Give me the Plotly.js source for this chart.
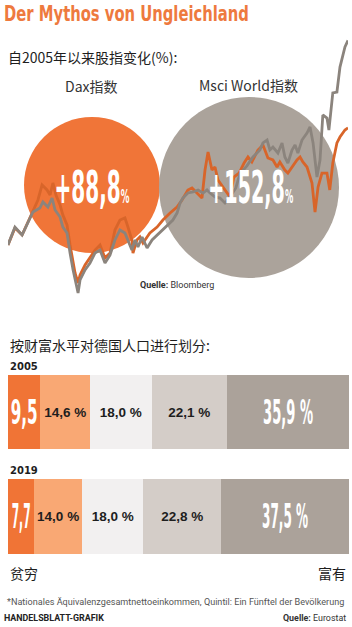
<!DOCTYPE html>
<html><head><meta charset="utf-8">
<script src="https://cdn.plot.ly/plotly-3.0.1.min.js"></script>
<style>html,body{margin:0;padding:0;background:#fff;}</style>
</head><body><div id="chart" style="width:352px;height:627px;"></div>
<script>
// ---- Line chart data: % change since 2005 ----
const daxYears = [2006.0, 2006.32, 2006.65, 2006.92, 2007.15, 2007.38, 2007.57, 2007.8, 2007.94, 2008.07, 2008.21, 2008.4, 2008.53, 2008.72, 2008.86, 2009.0, 2009.09, 2009.23, 2009.32, 2009.55, 2009.78, 2010.01, 2010.24, 2010.47, 2010.7, 2010.93, 2011.16, 2011.39, 2011.53, 2011.71, 2011.76, 2011.94, 2012.08, 2012.22, 2012.41, 2012.54, 2012.87, 2013.14, 2013.47, 2013.79, 2014.02, 2014.16, 2014.29, 2014.48, 2014.71, 2014.94, 2015.08, 2015.22, 2015.4, 2015.54, 2015.68, 2015.91, 2016.14, 2016.23, 2016.41, 2016.65, 2016.88, 2017.06, 2017.24, 2017.52, 2017.75, 2017.98, 2018.21, 2018.4, 2018.53, 2018.76, 2018.9, 2019.09, 2019.32, 2019.46, 2019.59, 2019.78, 2020.01, 2020.15, 2020.29, 2020.47, 2020.7, 2020.83, 2020.97, 2021.16, 2021.3, 2021.53, 2021.67];
const daxValues = [0, 12.9, 7.6, 17.4, 25, 34.1, 45.5, 41.7, 37.9, 47, 37.9, 30.3, 22.7, 15.2, 0, -12.9, -21.2, -28.8, -22.7, -15.2, -9.8, -3.8, 0, -9.8, -6.1, 11.4, 18.9, 20.5, 13.6, 3.8, -6.1, 3.8, 6.1, 1.5, 6.1, 9.1, 13.6, 18.9, 24.2, 28.8, 34.1, 37.9, 41.7, 43.2, 39.4, 35.6, 56.8, 70.5, 56.8, 59.1, 49.2, 43.9, 39.4, 36.4, 51.5, 54.5, 62.1, 66.7, 62.9, 72, 75.8, 65.9, 64.4, 59.1, 62.9, 56.8, 54.5, 59.1, 64.4, 66.7, 62.9, 59.1, 47, 25, 43.9, 54.5, 54.5, 41.7, 62.1, 77.3, 81.8, 87.1, 88.8];
const msciYears = [2006.0, 2006.32, 2006.65, 2006.92, 2007.15, 2007.47, 2007.61, 2007.84, 2008.03, 2008.17, 2008.4, 2008.53, 2008.72, 2008.86, 2009.0, 2009.23, 2009.32, 2009.55, 2009.78, 2010.01, 2010.24, 2010.47, 2010.7, 2010.93, 2011.16, 2011.39, 2011.53, 2011.71, 2011.85, 2011.99, 2012.18, 2012.41, 2012.64, 2012.87, 2013.1, 2013.33, 2013.47, 2013.6, 2013.79, 2013.93, 2014.06, 2014.29, 2014.53, 2014.76, 2014.99, 2015.17, 2015.31, 2015.54, 2015.77, 2016.0, 2016.23, 2016.5, 2016.69, 2017.01, 2017.29, 2017.61, 2017.75, 2017.94, 2018.07, 2018.21, 2018.44, 2018.63, 2018.76, 2018.9, 2019.09, 2019.23, 2019.36, 2019.55, 2019.78, 2019.92, 2020.06, 2020.24, 2020.38, 2020.51, 2020.7, 2020.79, 2020.97, 2021.16, 2021.3, 2021.53, 2021.67];
const msciValues = [0, 13.6, 7.6, 16.7, 25, 28, 32.6, 28.8, 35.6, 26.5, 21.2, 13.6, 9.1, -6.1, -18.9, -36.4, -26.5, -18.9, -13.6, -6.1, -3.8, -13.6, -7.6, 3.8, 11.4, 9.1, 3.8, -3.8, 3.8, -1.5, 6.1, -2.3, 3.8, 7.6, 11.4, 15.2, 17.4, 18.9, 24.2, 31.8, 35.6, 39.4, 40.2, 41.7, 39.4, 41.7, 39.4, 36.4, 35.6, 31.8, 36.4, 43.2, 54, 60, 66.7, 72, 77.3, 79.5, 72, 74.2, 69.7, 77.3, 66.7, 62.1, 72, 75.8, 69.7, 79.5, 84.8, 89.4, 77.3, 51.5, 64.4, 98.5, 96.2, 87.1, 115.2, 115.9, 134.8, 150, 155];
const daxTotal = '+88,8';
const msciTotal = '+152,8';

// ---- Quintile shares of national equivalised net income ----
const years = ['2005', '2019'];
const quintile1 = [9.5, 7.7];
const quintile2 = [14.6, 14.0];
const quintile3 = [18.0, 18.0];
const quintile4 = [22.1, 22.8];
const quintile5 = [35.9, 37.5];

const W = 352, H = 627;
const px = v => v / W;
const py = v => 1 - v / H;

const narrow = 'Liberation Sans Narrow, DejaVu Sans Condensed, Liberation Sans, sans-serif';
const cjk = 'Noto Sans CJK SC, Noto Sans, sans-serif';
const labelFont = {family: 'Liberation Sans, Arial, sans-serif', size: 13.5, color: '#1e1e1e', weight: 'bold'};
const bigFont = {family: narrow, size: 33, color: '#ffffff', weight: 'bold'};

const traces = [
  {x: daxYears, y: daxValues, type: 'scatter', mode: 'lines', xaxis: 'x', yaxis: 'y',
   line: {color: '#D8652A', width: 2.8}, hoverinfo: 'skip'},
  {x: msciYears, y: msciValues, type: 'scatter', mode: 'lines', xaxis: 'x', yaxis: 'y',
   line: {color: '#8B847D', width: 2.8}, hoverinfo: 'skip'}
];
const quintiles = [quintile1, quintile2, quintile3, quintile4, quintile5];
const qColors = ['#F07436', '#F9A874', '#F2F0F0', '#D4CDC8', '#ABA29A'];
quintiles.forEach((q, i) => {
  const big = (i === 0 || i === 4);
  traces.push({
    type: 'bar', orientation: 'h', x: q, y: years, xaxis: 'x2', yaxis: 'y2',
    marker: {color: qColors[i], line: {width: 0}},
    texttemplate: i === 0 ? '%{x:.1f}' : '%{x:.1f} %',
    textposition: 'inside', insidetextanchor: 'middle', textangle: 0,
    constraintext: 'none', cliponaxis: false,
    textfont: big ? bigFont : labelFont, hoverinfo: 'skip'
  });
});

const ann = (text, x, y, opts) => Object.assign({
  text, x: px(x), y: py(y), xref: 'paper', yref: 'paper', showarrow: false,
  xanchor: 'left', yanchor: 'middle'
}, opts || {});

const annotations = [
  ann('Der Mythos von Ungleichland', 2, 13, {font: {family: narrow, size: 22, color: '#EE7A3E', weight: 'bold'}}),
  ann('自2005年以来股指变化(%):', 6, 57, {font: {family: cjk, size: 14, color: '#1e1e1e'}}),
  ann('Dax指数', 91, 86, {xanchor: 'center', font: {family: cjk, size: 14, color: '#333'}}),
  ann('Msci World指数', 248, 85, {xanchor: 'center', font: {family: cjk, size: 14, color: '#333'}}),
  ann(daxTotal + '<span style="font-size:19px">%</span>', 92.5, 187, {xanchor: 'center', font: {family: narrow, size: 44, color: '#ffffff', weight: 'bold'}}),
  ann(msciTotal + '<span style="font-size:19px">%</span>', 250.5, 187, {xanchor: 'center', font: {family: narrow, size: 44, color: '#ffffff', weight: 'bold'}}),
  ann('<b>Quelle:</b> Bloomberg', 177, 285, {xanchor: 'center', font: {family: 'Roboto, sans-serif', size: 9, color: '#333'}}),
  ann('按财富水平对德国人口进行划分:', 8, 345, {font: {family: cjk, size: 14, color: '#1e1e1e'}}),
  ann('贫穷', 8, 573, {font: {family: cjk, size: 14, color: '#1e1e1e'}}),
  ann('富有', 348, 573, {xanchor: 'right', font: {family: cjk, size: 14, color: '#1e1e1e'}}),
  ann('*Nationales Äquivalenzgesamtnettoeinkommen, Quintil: Ein Fünftel der Bevölkerung', 5, 602, {font: {family: 'Roboto, sans-serif', size: 9.1, color: '#555'}}),
  ann('<b>HANDELSBLATT-GRAFIK</b>', 2, 618, {font: {family: 'Roboto, sans-serif', size: 8.9, color: '#222'}}),
  ann('<b>Quelle:</b> Eurostat', 348, 618, {xanchor: 'right', font: {family: 'Roboto, sans-serif', size: 8.9, color: '#333'}})
];
// year labels above bars
const yearLabelY = [366, 470];
years.forEach((yr, i) => annotations.push(
  ann(yr, 8, yearLabelY[i], {font: {family: 'DejaVu Sans, sans-serif', size: 10, color: '#1e1e1e', weight: 'bold'}})
));

const shapes = [
  {type: 'circle', xref: 'paper', yref: 'paper', x0: px(24), x1: px(160), y0: py(253), y1: py(117),
   fillcolor: '#F07538', line: {width: 0}, layer: 'below'},
  {type: 'circle', xref: 'paper', yref: 'paper', x0: px(159), x1: px(339), y0: py(278), y1: py(97),
   fillcolor: '#ABA39B', line: {width: 0}, layer: 'below'}
];

const layout = {
  width: W, height: H, autosize: false,
  margin: {l: 0, r: 0, t: 0, b: 0, pad: 0},
  paper_bgcolor: '#ffffff', plot_bgcolor: 'rgba(0,0,0,0)',
  showlegend: false, separators: ',.',
  xaxis: {domain: [px(8), px(348)], range: [2006, 2021.67], visible: false, fixedrange: true},
  yaxis: {domain: [py(297.8), py(33.8)], range: [-40, 160], visible: false, fixedrange: true},
  xaxis2: {domain: [px(8), px(349.3)], range: [0, 100.1], visible: false, anchor: 'y2'},
  yaxis2: {domain: [py(568.75), py(359.75)], type: 'category', autorange: 'reversed', visible: false, anchor: 'x2'},
  barmode: 'stack', bargap: 0.287,
  annotations, shapes
};

function squeeze(el, targetW, anchor) {
  const bb = el.getBBox();
  if (!bb.width) return;
  const f = targetW / bb.width;
  const cx = anchor === 'left' ? bb.x : bb.x + bb.width / 2;
  const t = el.getAttribute('transform') || '';
  el.setAttribute('transform', (t + ' translate(' + cx + ',0) scale(' + f + ',1) translate(' + (-cx) + ',0)').trim());
}
const targets = {
  'DerMythosvonUngleichland': [245, 'left'],
  '+88,8%': [75], '+152,8%': [85],
  '9,5': [27], '7,7': [19], '35,9%': [50], '37,5%': [46]
};

Plotly.newPlot('chart', traces, layout, {staticPlot: true, displayModeBar: false}).then(gd => {
  gd.querySelectorAll('text').forEach(el => {
    const key = (el.textContent || '').replace(/[\s\u00a0]/g, '');
    if (targets[key]) squeeze(el, targets[key][0], targets[key][1]);
  });
});
</script>
</body></html>
